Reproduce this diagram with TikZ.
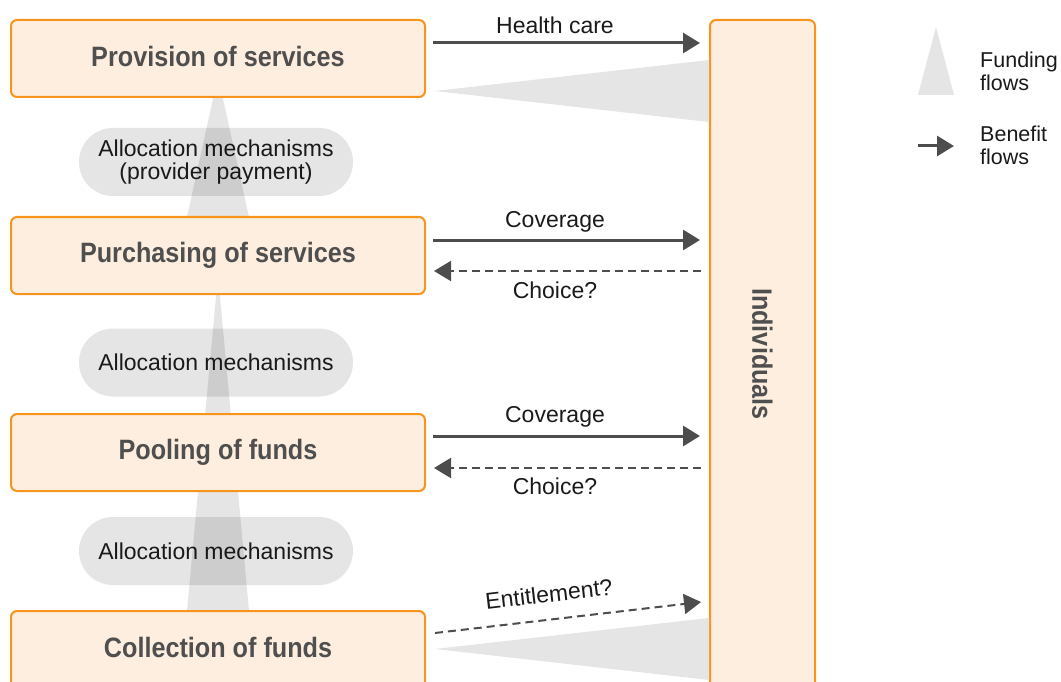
\documentclass[tikz,border=0pt]{standalone}
\usepackage{fontspec}
\setmainfont{Liberation Sans}
\newfontfamily\titlefont[FakeStretch=0.9]{Liberation Sans}
\usetikzlibrary{arrows.meta,calc,shapes.misc}
\definecolor{boxfill}{HTML}{FDEEDF}
\definecolor{boxline}{HTML}{F7941D}
\definecolor{pillgray}{HTML}{E5E5E5}
\definecolor{arrowgray}{HTML}{4D4D4D}
\definecolor{titlegray}{HTML}{4F4F4F}
\definecolor{labelblack}{HTML}{1A1A1A}
\newcommand{\uptitle}[1]{\raisebox{3.5pt}{#1}}
\tikzset{
  stagebox/.style={draw=boxline, line width=2pt, fill=boxfill, rounded corners=6pt,
    minimum width=414pt, minimum height=77pt, inner sep=0pt,
    text=titlegray, font=\titlefont\bfseries\fontsize{28}{30}\selectfont},
  pill/.style={fill=pillgray, rounded rectangle, minimum width=274pt, minimum height=68pt,
    inner sep=0pt, text=labelblack, align=center,
    font=\fontsize{23}{23}\selectfont},
  fundtri/.style={fill=black, fill opacity=0.1},
  sidetri/.style={fill=pillgray},
  benefit/.style={draw=arrowgray, line width=3pt, -{Triangle[length=17pt,width=20pt]}},
  maybe/.style={draw=arrowgray, line width=2pt, dash pattern=on 8pt off 5pt,
    -{Triangle[length=17pt,width=20pt]}},
  lbl/.style={text=labelblack, font=\fontsize{23}{24}\selectfont, inner sep=0pt},
  legendtext/.style={text=labelblack, inner sep=0pt, anchor=west, align=left,
    font=\fontsize{21.5}{23}\selectfont},
}
\begin{document}
\begin{tikzpicture}[x=1pt,y=-1pt]
\useasboundingbox (0,0) rectangle (1061,682);
\clip (0,0) rectangle (1061,682);
% pills
\node[pill] (p1) at (216,162) {Allocation mechanisms\\(provider payment)};
\node[pill] (p2) at (216,362.5) {Allocation mechanisms};
\node[pill] (p3) at (216,551) {Allocation mechanisms};
% vertical funding flows
\fill[fundtri] (218,76) -- (187,217) -- (249,217) -- cycle;
\fill[fundtri] (218,275) -- (187,611) -- (249,611) -- cycle;
% boxes
\node[stagebox] (prov) at (218,58.5) {\uptitle{Provision of services}};
\node[stagebox] (purch) at (218,255.5) {\uptitle{Purchasing of services}};
\node[stagebox] (pool) at (218,452.5) {\uptitle{Pooling of funds}};
\node[stagebox] (coll) at (218,649.5) {\uptitle{Collection of funds}};
\node[draw=boxline, line width=2pt, fill=boxfill, rounded corners=6pt,
  minimum width=105pt, minimum height=668pt, inner sep=0pt, text=titlegray,
  font=\titlefont\bfseries\fontsize{28}{30}\selectfont] (ind) at (762.5,354)
  {\rotatebox{-90}{Individuals}};
% horizontal funding flows
\fill[sidetri] (435,91) -- (ind.west |- 0,60) -- (ind.west |- 0,122) -- cycle;
\fill[sidetri] (435,649) -- (ind.west |- 0,618) -- (ind.west |- 0,680) -- cycle;
% benefit flows
\coordinate (y1) at (0,43);
\coordinate (y2) at (0,240);
\coordinate (y3) at (0,271);
\coordinate (y4) at (0,436);
\coordinate (y5) at (0,468);
\draw[benefit, shorten <=7pt, shorten >=9pt] (prov.east |- y1) -- (ind.west |- y1);
\draw[benefit, shorten <=7pt, shorten >=9pt] (purch.east |- y2) -- (ind.west |- y2);
\draw[maybe, shorten <=8pt, shorten >=8pt] (ind.west |- y3) -- (purch.east |- y3);
\draw[benefit, shorten <=7pt, shorten >=9pt] (pool.east |- y4) -- (ind.west |- y4);
\draw[maybe, shorten <=8pt, shorten >=8pt] (ind.west |- y5) -- (pool.east |- y5);
\coordinate (e1) at (435,633);
\coordinate (e2) at (701,602);
\draw[maybe] (e1) -- (e2);
% labels
\node[lbl] (l1) at (555,25) {Health care};
\node[lbl] (l2) at (555,222) {Coverage};
\node[lbl] (l3) at (555,290) {Choice?};
\node[lbl] (l4) at (555,417) {Coverage};
\node[lbl] (l5) at (555,486) {Choice?};
\node[lbl, rotate=6.65] (l6) at (549,594) {Entitlement?};
% legend
\fill[pillgray] (936,27) -- (918,95) -- (954,95) -- cycle;
\coordinate (lg1) at (918,146);
\coordinate (lg2) at (954,146);
\draw[draw=arrowgray, line width=3pt, -{Triangle[length=17pt,width=20pt]}] (lg1) -- (lg2);
\node[legendtext] (lf) at (980,71) {Funding\\flows};
\node[legendtext] (lb) at (980,145) {Benefit\\flows};
\end{tikzpicture}
\end{document}
